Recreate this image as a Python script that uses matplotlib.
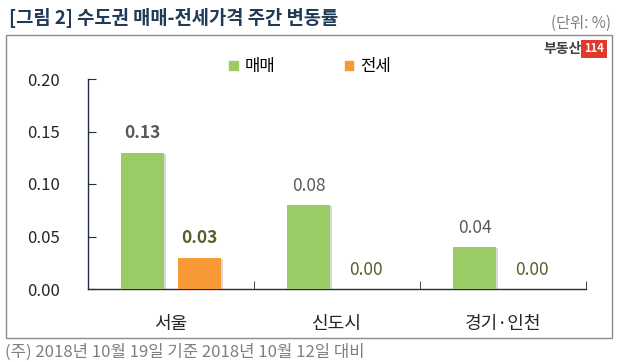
import numpy as np
import matplotlib.pyplot as plt
import matplotlib.patheffects as pe
from matplotlib.patches import Rectangle, Patch

plt.rcParams['font.family'] = ['Noto Sans CJK KR', 'DejaVu Sans']

# data
regions = ['서울', '신도시', '경기·인천']
sale = [0.13, 0.08, 0.04]      # 매매
jeonse = [0.03, 0.00, 0.00]    # 전세
series_names = ['매매', '전세']
yticks = [0.00, 0.05, 0.10, 0.15, 0.20]

green = '#9bcb65'
orange = '#f79a35'
axis_col = '#1f2d3d'

fig = plt.figure(figsize=(6.18, 3.62), dpi=100)
ax = fig.add_axes([88 / 618, 1 - 289 / 362, 498 / 618, 210 / 362])

x = np.arange(len(regions))
w = 0.26
off = 0.172
shadow = [pe.SimplePatchShadow(offset=(1.5, -1), shadow_rgbFace='#7f7f7f', alpha=0.3), pe.Normal()]
ax.bar(x - off, sale, w, color=green, path_effects=shadow, zorder=3)
ax.bar(x + off, jeonse, w, color=orange, path_effects=shadow, zorder=3)

# value labels
for i, v in enumerate(sale):
    ax.annotate(f'{v:.2f}', (x[i] - off, v), xytext=(0, 14), textcoords='offset points',
                ha='center', va='center', fontsize=12.5, color='#595959',
                fontweight='bold' if i == 0 else 'normal')
for i, v in enumerate(jeonse):
    ax.annotate(f'{v:.2f}', (x[i] + off, v), xytext=(0, 14), textcoords='offset points',
                ha='center', va='center', fontsize=12.5, color='#4f6228',
                fontweight='bold' if i == 0 else 'normal')

ax.set_xlim(-0.5, 2.5)
ax.set_ylim(0, 0.20)
ax.set_yticks(yticks)
ax.set_yticklabels([f'{t:.2f}' for t in yticks], fontsize=12, color='#262626')
ax.set_xticks(x)
ax.set_xticklabels(regions, fontsize=13, color='#262626')
ax.set_xticks([0.5, 1.5, 2.5], minor=True)
ax.tick_params(axis='x', which='major', length=0, pad=19)
ax.tick_params(axis='x', which='minor', direction='in', length=6, color=axis_col)
ax.tick_params(axis='y', direction='in', length=6, color=axis_col, pad=20)
for s in ['top', 'right']:
    ax.spines[s].set_visible(False)
for s in ['left', 'bottom']:
    ax.spines[s].set_color(axis_col)
    ax.spines[s].set_linewidth(1)

# legend
handles = [Patch(color=green), Patch(color=orange)]
fig.legend(handles, series_names, loc='center', bbox_to_anchor=(310 / 618, 1 - 67 / 362),
           ncol=2, frameon=False, fontsize=12, handlelength=0.5, handleheight=0.5,
           handletextpad=0.4, columnspacing=4.2)

# outer frame
fig.patches.append(Rectangle((6 / 618, 1 - 338 / 362), 606 / 618, 303 / 362,
                             transform=fig.transFigure, fill=False, edgecolor='#8c8c8c', linewidth=1))

# title and notes
fig.text(9 / 618, 1 - 18 / 362, '[그림 2] 수도권 매매-전세가격 주간 변동률', fontsize=13.5,
         fontweight='bold', color='#1f3b57', ha='left', va='center')
fig.text(611 / 618, 1 - 23 / 362, '(단위: %)', fontsize=11, color='#7f7f7f', ha='right', va='center')
fig.text(5 / 618, 1 - 352 / 362, '(주) 2018년 10월 19일 기준 2018년 10월 12일 대비', fontsize=12,
         color='#7f7f7f', ha='left', va='center')

# logo
fig.text(582 / 618, 1 - 49 / 362, '부동산', fontsize=10, fontweight='bold', color='#404040',
         ha='right', va='center')
fig.text(594 / 618, 1 - 49 / 362, '114', fontsize=8, fontweight='bold', color='white',
         ha='center', va='center',
         bbox=dict(boxstyle='square,pad=0.25', facecolor='#e03a2c', edgecolor='none'))

fig.savefig('out.png', dpi=100)
